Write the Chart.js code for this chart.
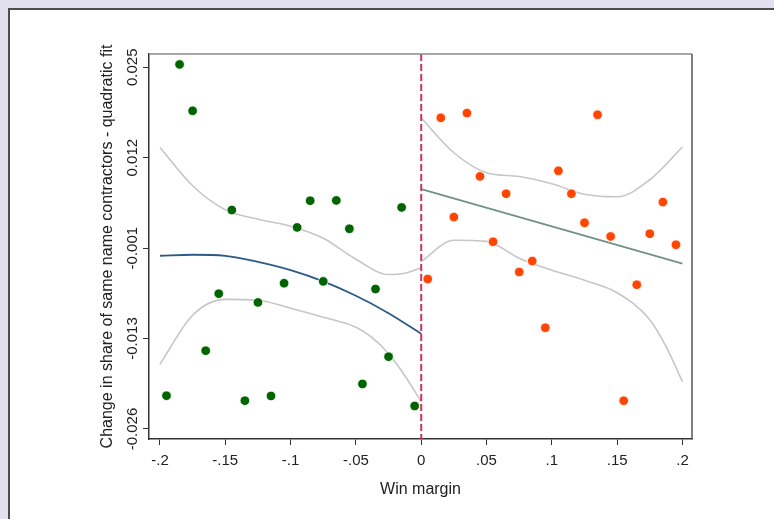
<!DOCTYPE html>
<html>
<head>
<meta charset="utf-8">
<script src="https://cdn.jsdelivr.net/npm/chart.js@4.4.1/dist/chart.umd.min.js"></script>
<style>
html, body { margin: 0; padding: 0; background: #fff; }
canvas { display: block; }
</style>
</head>
<body>
<canvas id="rdChart" width="774" height="519"></canvas>
<script>
// Puntos: margen de victoria (izquierda = pierde, derecha = gana)
const leftX = [-0.195, -0.185, -0.175, -0.165, -0.155, -0.145, -0.135, -0.125, -0.115, -0.105,
               -0.095, -0.085, -0.075, -0.065, -0.055, -0.045, -0.035, -0.025, -0.015, -0.005];
const leftY = [-0.02149, 0.0254, 0.01884, -0.01512, -0.00705, 0.00479, -0.0222, -0.00829, -0.02153, -0.00557,
               0.00233, 0.00611, -0.00531, 0.00615, 0.00214, -0.01983, -0.00639, -0.01597, 0.00516, -0.02295];
const rightX = [0.005, 0.015, 0.025, 0.035, 0.045, 0.055, 0.065, 0.075, 0.085, 0.095,
                0.105, 0.115, 0.125, 0.135, 0.145, 0.155, 0.165, 0.175, 0.185, 0.195];
const rightY = [-0.00497, 0.01785, 0.0038, 0.01852, 0.00955, 0.0003, 0.0071, -0.00398, -0.00243, -0.01187,
                0.01035, 0.0071, 0.00299, 0.01828, 0.00105, -0.0222, -0.00578, 0.00144, 0.00592, -0.00012];

// Ajuste cuadrático e intervalos
const leftFitX = [-0.2, -0.175, -0.15, -0.125, -0.1, -0.075, -0.05, -0.025, 0];
const leftFitY = [-0.00168, -0.00154, -0.00169, -0.00255, -0.00372, -0.00531, -0.00735, -0.00981, -0.01272];
const leftUpX = [-0.2, -0.175, -0.15, -0.125, -0.1, -0.075, -0.05, -0.025, -0.0125, 0];
const leftUpY = [0.01365, 0.00823, 0.00483, 0.00349, 0.0025, 0.0008, -0.00217, -0.00434, -0.00415, -0.00338];
const leftLoX = [-0.2, -0.175, -0.15, -0.125, -0.1, -0.075, -0.05, -0.0375, -0.025, -0.0125, 0];
const leftLoY = [-0.01703, -0.0101, -0.00786, -0.00797, -0.00911, -0.01038, -0.0118, -0.01328, -0.01555, -0.01866, -0.02234];

const rightFitX = [0, 0.1, 0.2];
const rightFitY = [0.00776, 0.00248, -0.00281];
const rightUpX = [0, 0.025, 0.05, 0.075, 0.1, 0.125, 0.15, 0.175, 0.2];
const rightUpY = [0.01781, 0.0129, 0.01007, 0.00953, 0.00851, 0.00703, 0.00667, 0.00908, 0.01371];
const rightLoX = [0, 0.025, 0.05, 0.075, 0.1, 0.125, 0.15, 0.175, 0.1875, 0.2];
const rightLoY = [-0.00248, 0.00052, 0.00035, -0.00203, -0.00373, -0.00514, -0.00691, -0.01073, -0.01456, -0.01951];

// Ejes
const xTickValues = [-0.2, -0.15, -0.1, -0.05, 0, 0.05, 0.1, 0.15, 0.2];
const xTickLabels = ['-.2', '-.15', '-.1', '-.05', '0', '.05', '.1', '.15', '.2'];
const yTickValues = [0.025, 0.0122, -0.0006, -0.0134, -0.0262];
const yTickLabels = ['0.025', '0.012', '-0.001', '-0.013', '-0.026'];
const xMin = -0.2084, xMax = 0.2073;
const yMin = -0.02762, yMax = 0.02688;

const pts = (xs, ys) => xs.map((x, i) => ({ x: x, y: ys[i] }));

Chart.defaults.font.family = '"Liberation Sans", Arial, sans-serif';
Chart.defaults.color = '#222';

// Fondo estilo Stata
const backgroundPlugin = {
    id: 'stataBackground',
    beforeDraw(chart) {
        const ctx = chart.ctx;
        ctx.save();
        ctx.fillStyle = '#e2dfee';
        ctx.fillRect(0, 0, chart.width, chart.height);
        ctx.fillStyle = '#ffffff';
        ctx.fillRect(8, 8, chart.width - 8, chart.height - 8);
        ctx.strokeStyle = '#4d4d4d';
        ctx.lineWidth = 2;
        ctx.beginPath();
        ctx.moveTo(9, chart.height);
        ctx.lineTo(9, 9);
        ctx.lineTo(chart.width, 9);
        ctx.stroke();
        ctx.restore();
    }
};

// Marco superior/derecho y etiquetas verticales del eje Y
const framePlugin = {
    id: 'frameAndYLabels',
    afterDraw(chart) {
        const ctx = chart.ctx;
        const a = chart.chartArea;
        const ys = chart.scales.y;
        ctx.save();
        ctx.strokeStyle = '#8a8a8a';
        ctx.lineWidth = 1.5;
        ctx.beginPath();
        ctx.moveTo(a.left, a.top);
        ctx.lineTo(a.right, a.top);
        ctx.stroke();
        ctx.strokeStyle = '#555';
        ctx.beginPath();
        ctx.moveTo(a.right, a.top);
        ctx.lineTo(a.right, a.bottom);
        ctx.stroke();

        ctx.fillStyle = '#222';
        ctx.font = '15px "Liberation Sans", Arial, sans-serif';
        ctx.textAlign = 'center';
        ctx.textBaseline = 'alphabetic';
        yTickValues.forEach((v, i) => {
            ctx.save();
            ctx.translate(136.5, ys.getPixelForValue(v));
            ctx.rotate(-Math.PI / 2);
            ctx.fillText(yTickLabels[i], 0, 0);
            ctx.restore();
        });
        ctx.restore();
    }
};

const bandStyle = {
    showLine: true, pointRadius: 0, borderColor: '#c6c6c6', borderWidth: 1.6,
    cubicInterpolationMode: 'monotone', fill: false, order: 3
};

new Chart(document.getElementById('rdChart'), {
    type: 'scatter',
    data: {
        datasets: [
            { data: pts(leftX, leftY), backgroundColor: '#006400', borderColor: '#ffffff', borderWidth: 0.8, pointRadius: 4.8, order: 0 },
            { data: pts(rightX, rightY), backgroundColor: '#ff4500', borderColor: '#ffffff', borderWidth: 0.8, pointRadius: 4.8, order: 0 },
            { data: [{ x: 0, y: yMax }, { x: 0, y: yMin }], showLine: true, pointRadius: 0,
              borderColor: '#c8365e', borderWidth: 2, borderDash: [7, 3], order: 1 },
            { data: pts(leftFitX, leftFitY), showLine: true, pointRadius: 0, borderColor: '#2b5a86',
              borderWidth: 1.8, cubicInterpolationMode: 'monotone', order: 2 },
            { data: pts(rightFitX, rightFitY), showLine: true, pointRadius: 0, borderColor: '#6f9384',
              borderWidth: 1.8, order: 2 },
            Object.assign({ data: pts(leftUpX, leftUpY) }, bandStyle),
            Object.assign({ data: pts(leftLoX, leftLoY) }, bandStyle),
            Object.assign({ data: pts(rightUpX, rightUpY) }, bandStyle),
            Object.assign({ data: pts(rightLoX, rightLoY) }, bandStyle)
        ]
    },
    options: {
        responsive: false,
        animation: false,
        layout: { padding: { left: 0, right: 82, top: 54, bottom: 0 } },
        plugins: { legend: { display: false }, tooltip: { enabled: false } },
        scales: {
            x: {
                type: 'linear', min: xMin, max: xMax,
                afterBuildTicks: s => { s.ticks = xTickValues.map(v => ({ value: v })); },
                afterFit: s => { s.height = 80; },
                ticks: {
                    callback: (v, i) => xTickLabels[i],
                    font: { size: 15 }, color: '#222', padding: 7, maxRotation: 0, autoSkip: false
                },
                grid: { drawOnChartArea: false, drawTicks: true, tickLength: 6, color: '#333' },
                border: { display: true, color: '#333', width: 1.5 },
                title: { display: true, text: 'Win margin', font: { size: 16 }, color: '#222',
                         padding: { top: 0, bottom: 20 } }
            },
            y: {
                type: 'linear', min: yMin, max: yMax,
                afterBuildTicks: s => { s.ticks = yTickValues.map(v => ({ value: v })); },
                afterFit: s => { s.width = 149; },
                ticks: { display: false },
                grid: { drawOnChartArea: false, drawTicks: true, tickLength: 6, color: '#333' },
                border: { display: true, color: '#333', width: 1.5 },
                title: { display: true, text: 'Change in share of same name contractors - quadratic fit',
                         font: { size: 16 }, color: '#222', padding: { top: 98, bottom: 0 } }
            }
        }
    },
    plugins: [backgroundPlugin, framePlugin]
});
</script>
</body>
</html>
